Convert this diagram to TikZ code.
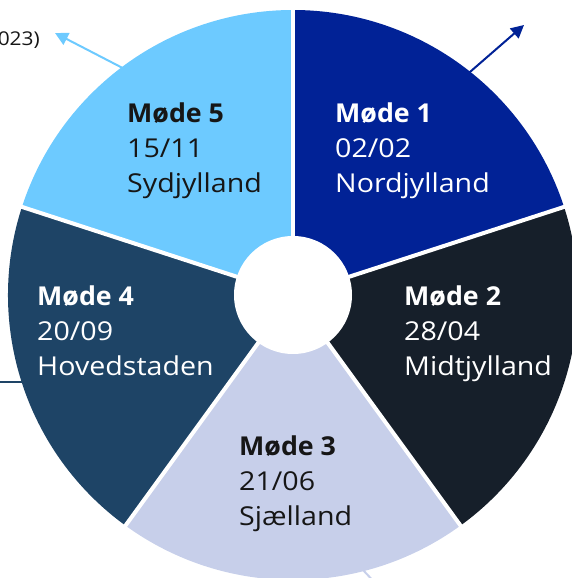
\documentclass[tikz,border=0pt]{standalone}
\usepackage{fontspec}
\setmainfont{Open Sans}
\newfontfamily\regwide[FakeStretch=1.10]{Open Sans}
\newfontfamily\boldwide[FakeStretch=1.03]{Open Sans Bold}
\usetikzlibrary{arrows.meta}
\definecolor{cA}{HTML}{012296}
\definecolor{cB}{HTML}{161F2A}
\definecolor{cC}{HTML}{C7CFEA}
\definecolor{cD}{HTML}{1E4466}
\definecolor{cE}{HTML}{6DCAFF}
\definecolor{txtdark}{HTML}{161616}
\tikzset{
  lbl/.style={inner sep=0pt, anchor=base west, font=\regwide\fontsize{26}{30}\selectfont},
  lblb/.style={inner sep=0pt, anchor=base west, font=\boldwide\fontsize{26}{30}\selectfont},
  conn/.style={line width=2pt},
  tipped/.style={conn, -{Triangle[length=13pt,width=13pt]}},
  gap/.style={white, line width=4pt},
}
\begin{document}
\begin{tikzpicture}[x=1pt,y=1pt]
\useasboundingbox (0,0) rectangle (572,578);
\coordinate (C) at (293,283);
% connectors behind the pie
\coordinate (l4s) at (-5,196);
\coordinate (l4e) at (80,196);
\draw[conn, cD] (l4s) -- (l4e);
\coordinate (l3s) at (348,24);
\coordinate (l3e) at (378,-8);
\draw[conn, cC] (l3s) -- (l3e);
\coordinate (a5s) at (140,501);
\coordinate (a5e) at (55,545);
\draw[tipped, cE] (a5s) -- (a5e);
\coordinate (a1s) at (455,493);
\coordinate (a1e) at (524,553);
\draw[tipped, cA] (a1s) -- (a1e);
\node[inner sep=0pt, anchor=base east, text=txtdark, font=\regwide\fontsize{19}{23}\selectfont] (yr) at (40,532) {(2023)};
% sectors
\fill[cA] (C) -- ++(90:285) arc[start angle=90, end angle=18, radius=285] -- cycle;
\fill[cB] (C) -- ++(18:285) arc[start angle=18, end angle=-54, radius=285] -- cycle;
\fill[cC] (C) -- ++(-54:285) arc[start angle=-54, end angle=-126, radius=285] -- cycle;
\fill[cD] (C) -- ++(-126:285) arc[start angle=-126, end angle=-198, radius=285] -- cycle;
\fill[cE] (C) -- ++(162:285) arc[start angle=162, end angle=90, radius=285] -- cycle;
% gaps
\foreach \a in {90,18,-54,-126,162} \draw[gap] (C) -- ++(\a:290);
\fill[white] (C) circle[radius=59];
% labels
\node[lblb, text=white] (m1a) at (335,455) {Møde 1};
\node[lbl, text=white] (m1b) at (335,420) {02/02};
\node[lbl, text=white] (m1c) at (335,385) {Nordjylland};
\node[lblb, text=white] (m2a) at (404,272) {Møde 2};
\node[lbl, text=white] (m2b) at (404,237) {28/04};
\node[lbl, text=white] (m2c) at (404,202) {Midtjylland};
\node[lblb, text=txtdark] (m3a) at (239,122) {Møde 3};
\node[lbl, text=txtdark] (m3b) at (239,87) {21/06};
\node[lbl, text=txtdark] (m3c) at (239,52) {Sjælland};
\node[lblb, text=white] (m4a) at (37,272) {Møde 4};
\node[lbl, text=white] (m4b) at (37,237) {20/09};
\node[lbl, text=white] (m4c) at (37,202) {Hovedstaden};
\node[lblb, text=txtdark] (m5a) at (127,455) {Møde 5};
\node[lbl, text=txtdark] (m5b) at (127,420) {15/11};
\node[lbl, text=txtdark] (m5c) at (127,385) {Sydjylland};
\end{tikzpicture}
\end{document}
